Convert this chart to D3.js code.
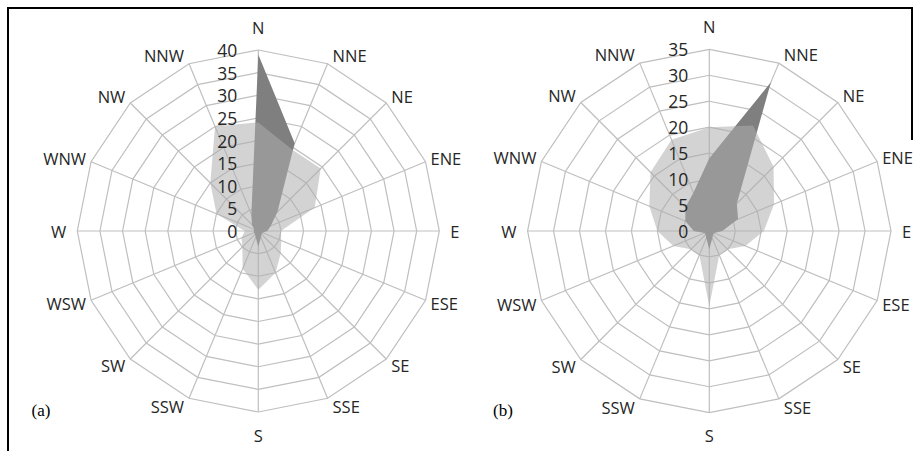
<!DOCTYPE html>
<html>
<head>
<meta charset="utf-8">
<script src="https://cdn.jsdelivr.net/npm/d3@7/dist/d3.min.js"></script>
<style>
  html, body { margin: 0; padding: 0; background: #fff; }
  svg { display: block; }
</style>
</head>
<body>
<svg id="chart" width="919" height="451"></svg>
<script>
// ---- data ----
const directions = ["N","NNE","NE","ENE","E","ESE","SE","SSE","S","SSW","SW","WSW","W","WNW","NW","NNW"];

// panel (a)
const ticksA = [0,5,10,15,20,25,30,35,40];
const darkA  = [39,21,6,3,2,1,1,1.5,3.5,1.5,1,1,1,1,2,4];
const lightA = [24,19.5,19.5,13.5,5,5.5,7,10,13,9,5,4,3,10,15,25];

// panel (b)
const ticksB = [0,5,10,15,20,25,30,35];
const darkB  = [14,31,7.5,6,2.5,1,1,1.5,3.5,1.5,1,1,3,5,6.5,8];
const lightB = [20,22,17.5,13.5,10.5,7.5,5,5,14.5,5,5,7.5,10,12.5,16,19];

const panelLabels = ["(a)", "(b)"];

// ---- drawing ----
const svg = d3.select("#chart");
const FONT = "'Open Sans', sans-serif";
const GRID = "#bfbfbf";
const TXT = "#262626";

// frame
svg.append("line").attr("x1",8).attr("y1",8).attr("x2",912).attr("y2",8)
  .attr("stroke","#000").attr("stroke-width",2);
svg.append("line").attr("x1",8).attr("y1",7).attr("x2",8).attr("y2",451)
  .attr("stroke","#000").attr("stroke-width",2);
svg.append("line").attr("x1",912).attr("y1",7).attr("x2",912).attr("y2",140)
  .attr("stroke","#000").attr("stroke-width",2);

const panels = [
  {cx: 258.3, cy: 231, R: 181, ticks: ticksA, dark: darkA, light: lightA, label: panelLabels[0], lx: 41},
  {cx: 709.3, cy: 231, R: 181.7, ticks: ticksB, dark: darkB, light: lightB, label: panelLabels[1], lx: 503}
];

const angle = d3.scaleBand().domain(directions).range([0, 2*Math.PI]).align(0).paddingInner(0).paddingOuter(0);

panels.forEach(p => {
  const maxV = d3.max(p.ticks);
  const r = d3.scaleLinear().domain([0, maxV]).range([0, p.R]);
  const g = svg.append("g").attr("transform", `translate(${p.cx},${p.cy})`);
  const a = d => angle(d);

  // grid rings
  p.ticks.filter(t => t > 0).forEach(t => {
    g.append("path")
      .attr("d", d3.lineRadial().curve(d3.curveLinearClosed).angle(d => a(d)).radius(() => r(t))(directions))
      .attr("fill","none").attr("stroke",GRID).attr("stroke-width",1.2);
  });
  // spokes
  directions.forEach(d => {
    const th = a(d);
    g.append("line")
      .attr("x1",0).attr("y1",0)
      .attr("x2", r(maxV)*Math.sin(th)).attr("y2", -r(maxV)*Math.cos(th))
      .attr("stroke",GRID).attr("stroke-width",1.2);
  });

  const radial = d3.lineRadial().curve(d3.curveLinearClosed)
    .angle((d,i) => a(directions[i])).radius(d => r(d));

  // dark series
  g.append("path").attr("d", radial(p.dark)).attr("fill","#7f7f7f").attr("stroke","none");
  // light series (semi-transparent, on top)
  g.append("path").attr("d", radial(p.light)).attr("fill","#aeaeae").attr("fill-opacity",0.54).attr("stroke","none");

  // direction labels
  directions.forEach(d => {
    const th = a(d);
    const s = Math.sin(th), c = Math.cos(th);
    const tx = r(maxV)*s, ty = -r(maxV)*c;
    const t = g.append("text")
      .attr("text-anchor","middle").attr("dominant-baseline","central")
      .attr("font-family",FONT).attr("font-size",16.5)
      .attr("fill",TXT).text(d);
    const w = t.node().getComputedTextLength();
    const h = 12;
    let dx, dy;
    if (Math.abs(s) < 0.1) { dx = 0; dy = -Math.sign(c)*(h/2 + 17); }
    else if (Math.abs(c) < 0.1) { dy = 0; dx = Math.sign(s)*(w/2 + 11); }
    else { dx = Math.sign(s)*(w/2 + 5); dy = -c*9.5; }
    t.attr("x", tx + dx).attr("y", ty + dy);
  });

  // tick labels
  p.ticks.forEach(t => {
    g.append("text")
      .attr("x", -21).attr("y", -r(t))
      .attr("text-anchor","end").attr("dominant-baseline","central")
      .attr("font-family",FONT).attr("font-size",17.5)
      .attr("fill",TXT).text(t);
  });

  // panel label
  svg.append("text").attr("x", p.lx).attr("y", 410)
    .attr("text-anchor","middle").attr("dominant-baseline","central")
    .attr("font-family","'Liberation Serif', serif").attr("font-size",17)
    .attr("fill","#000").text(p.label);
});
</script>
</body>
</html>
